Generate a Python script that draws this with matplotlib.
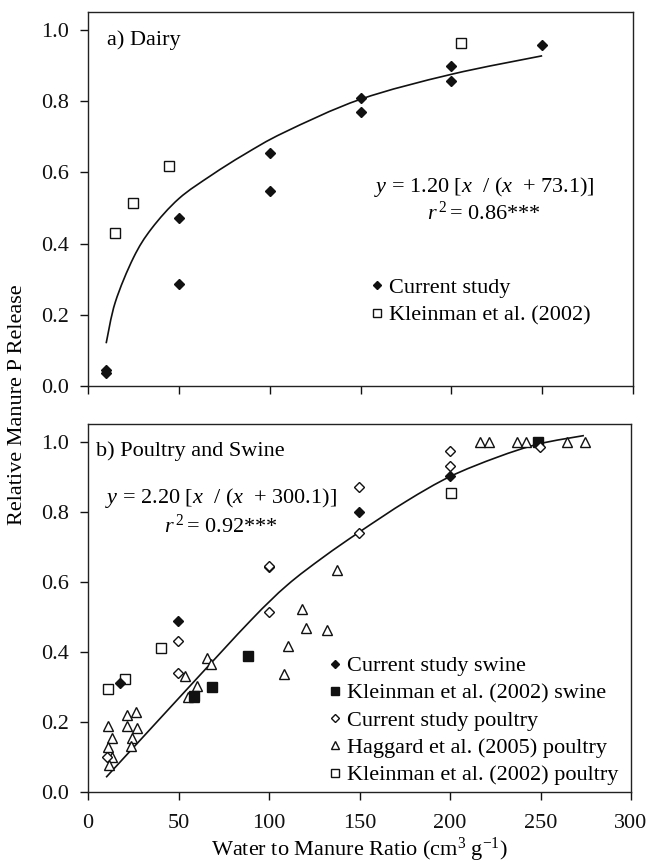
import matplotlib
matplotlib.use('Agg')
import matplotlib.pyplot as plt
from matplotlib.ticker import FormatStrFormatter
from matplotlib.path import Path
from matplotlib.patches import PathPatch

plt.rcParams['font.family'] = ['Liberation Serif', 'DejaVu Serif']
plt.rcParams['mathtext.fontset'] = 'custom'
plt.rcParams['mathtext.rm'] = 'Liberation Serif'
plt.rcParams['mathtext.it'] = 'Liberation Serif:italic'
plt.rcParams['font.size'] = 16

# ---------------- data: a) Dairy ----------------
dairy_cur_x = [10, 10, 50, 50, 100, 100, 150, 150, 200, 200, 250]
dairy_cur_y = [0.045, 0.036, 0.472, 0.286, 0.655, 0.547, 0.808, 0.770, 0.899, 0.857, 0.958]
dairy_kl_x = [14.8, 24.9, 44.5, 205.3]
dairy_kl_y = [0.429, 0.515, 0.619, 0.964]
dairy_fit_x = [10, 15, 25, 35, 50, 68, 86, 108, 150, 200, 250]
dairy_fit_y = [0.120, 0.235, 0.360, 0.442, 0.526, 0.592, 0.650, 0.712, 0.805, 0.875, 0.927]

# ---------------- data: b) Poultry and Swine ----------------
sw_cur_x = [17.7, 49.6, 149.8, 200.0]
sw_cur_y = [0.311, 0.487, 0.799, 0.903]
sw_kl_x = [58.5, 68.4, 88.4, 248.7]
sw_kl_y = [0.275, 0.299, 0.389, 1.0]
po_cur_x = [10.3, 49.6, 49.6, 99.8, 99.8, 99.8, 149.8, 149.8, 200.0, 200.0, 249.8]
po_cur_y = [0.099, 0.432, 0.339, 0.641, 0.645, 0.515, 0.871, 0.739, 0.974, 0.931, 0.985]
po_hag_x = [10.9, 13.1, 10.9, 13.5, 11.6, 21.4, 26.4, 21.8, 27.3, 24.2, 23.8,
            53.7, 60.1, 55.5, 58.8, 65.7, 68.1, 110.5, 108.3, 118.2, 120.6, 132.0,
            137.6, 216.6, 221.4, 236.9, 241.8, 264.5, 274.5]
po_hag_y = [0.187, 0.153, 0.128, 0.101, 0.077, 0.220, 0.229, 0.187, 0.182, 0.153, 0.130,
            0.330, 0.303, 0.271, 0.272, 0.382, 0.366, 0.417, 0.337, 0.523, 0.468, 0.461,
            0.632, 1.0, 1.0, 1.0, 1.0, 1.0, 1.0]
po_kl_x = [10.9, 20.5, 40.4, 200.7]
po_kl_y = [0.293, 0.323, 0.410, 0.853]
ps_fit_x = [10, 55, 90, 110, 130, 150, 176, 200, 226, 249, 274]
ps_fit_y = [0.042, 0.295, 0.490, 0.590, 0.670, 0.742, 0.830, 0.900, 0.955, 0.993, 1.017]

x_ticks = [0, 50, 100, 150, 200, 250, 300]
y_ticks = [0.0, 0.2, 0.4, 0.6, 0.8, 1.0]


def smooth_path(xs, ys):
    """Smooth Bezier path running through the read knots (Catmull-Rom)."""
    pts = list(zip(xs, ys))
    verts = [pts[0]]
    codes = [Path.MOVETO]
    n = len(pts)
    for i in range(n - 1):
        p0 = pts[i - 1] if i > 0 else pts[i]
        p1 = pts[i]
        p2 = pts[i + 1]
        p3 = pts[i + 2] if i + 2 < n else pts[i + 1]
        c1 = (p1[0] + (p2[0] - p0[0]) / 6.0, p1[1] + (p2[1] - p0[1]) / 6.0)
        c2 = (p2[0] - (p3[0] - p1[0]) / 6.0, p2[1] - (p3[1] - p1[1]) / 6.0)
        verts += [c1, c2, p2]
        codes += [Path.CURVE4] * 3
    return Path(verts, codes)


fig = plt.figure(figsize=(6.49, 8.68), dpi=100)
ax1 = fig.add_axes([88/649, 1-386/868, 545/649, 374/868])
ax2 = fig.add_axes([88/649, 1-792/868, 543/649, 368/868])

for ax in (ax1, ax2):
    ax.set_xlim(0, 300)
    ax.set_ylim(0, 1.05)
    ax.set_xticks(x_ticks)
    ax.set_yticks(y_ticks)
    ax.yaxis.set_major_formatter(FormatStrFormatter('%.1f'))
    ax.tick_params(direction='out', length=6, width=1.0, labelsize=16, pad=8, colors='#111111')
    ax.tick_params(axis='x', pad=10)
    for s in ax.spines.values():
        s.set_linewidth(1.0)
        s.set_color('#222222')
ax1.tick_params(axis='x', labelbottom=False)

ms_d = 5.0
ms_s = 6.5
ms_t = 6.8
ew = 1.0

# panel a
ax1.add_patch(PathPatch(smooth_path(dairy_fit_x, dairy_fit_y), fill=False, edgecolor='#111111',
                        lw=1.2, zorder=2))
h1, = ax1.plot(dairy_cur_x, dairy_cur_y, 'D', ms=ms_d, color='#111111', zorder=3, label='Current study')
h2, = ax1.plot(dairy_kl_x, dairy_kl_y, 's', ms=ms_s, mfc='white', mec='#111111', mew=ew, zorder=3,
               label='Kleinman et al. (2002)')
ax1.text(0.034, 0.925, 'a) Dairy', transform=ax1.transAxes, ha='left', va='center', fontsize=16)
ax1.text(0.727, 0.532, '$y$ = 1.20 [$x$  / ($x$  + 73.1)]', transform=ax1.transAxes,
         ha='center', va='center', fontsize=16)
ax1.text(0.727, 0.463, '$r^{\\,2}\\,$= 0.86***', transform=ax1.transAxes,
         ha='center', va='center', fontsize=16)
ax1.legend(handles=[h1, h2], loc='upper left', bbox_to_anchor=(0.516, 0.291), frameon=False,
           handlelength=0.7, handletextpad=0.2, borderpad=0, borderaxespad=0,
           labelspacing=0.33, markerscale=0.8, fontsize=16)

# panel b
ax2.add_patch(PathPatch(smooth_path(ps_fit_x, ps_fit_y), fill=False, edgecolor='#111111',
                        lw=1.2, zorder=2))
g4, = ax2.plot(po_hag_x, po_hag_y, '^', ms=ms_t, mfc='white', mec='#111111', mew=ew, zorder=3,
               label='Haggard et al. (2005) poultry')
g5, = ax2.plot(po_kl_x, po_kl_y, 's', ms=ms_s, mfc='white', mec='#111111', mew=ew, zorder=3,
               label='Kleinman et al. (2002) poultry')
g2, = ax2.plot(sw_kl_x, sw_kl_y, 's', ms=ms_s, color='#111111', zorder=3,
               label='Kleinman et al. (2002) swine')
g3, = ax2.plot(po_cur_x, po_cur_y, 'D', ms=ms_d, mfc='white', mec='#111111', mew=ew, zorder=4,
               label='Current study poultry')
g1, = ax2.plot(sw_cur_x, sw_cur_y, 'D', ms=ms_d, color='#111111', zorder=4, label='Current study swine')
ax2.text(0.015, 0.925, 'b) Poultry and Swine', transform=ax2.transAxes, ha='left', va='center',
         fontsize=16)
ax2.text(0.245, 0.799, '$y$ = 2.20 [$x$  / ($x$  + 300.1)]', transform=ax2.transAxes,
         ha='center', va='center', fontsize=16)
ax2.text(0.245, 0.721, '$r^{\\,2}\\,$= 0.92***', transform=ax2.transAxes,
         ha='center', va='center', fontsize=16)
ax2.legend(handles=[g1, g2, g3, g4, g5], loc='upper left', bbox_to_anchor=(0.4405, 0.37),
           frameon=False, handlelength=0.7, handletextpad=0.2, borderpad=0, borderaxespad=0,
           labelspacing=0.3, markerscale=0.8, fontsize=16)

ax2.set_xlabel('Water to Manure Ratio (cm$^{3}$ g$^{-1}$)', fontsize=16, labelpad=2)
fig.text(18/649, 1-405/868, 'Relative Manure P Release', rotation=90, ha='center', va='center',
         fontsize=16)

fig.savefig('out.png', dpi=100)
